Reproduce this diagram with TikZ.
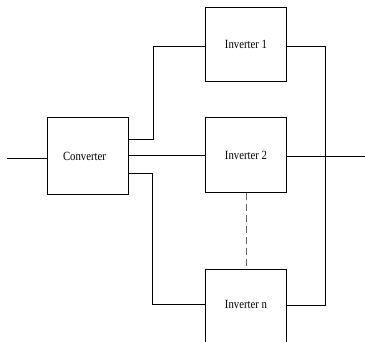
\documentclass[tikz,border=0pt]{standalone}
\usepackage{fontspec}
\setmainfont{Liberation Serif}
\begin{document}
\begin{tikzpicture}[x=1pt,y=-1pt,
  blk/.style={draw,line width=0.9pt,minimum width=81pt,inner sep=0pt},
  wire/.style={line width=0.9pt},
  lbl/.style={font=\fontsize{12.5}{13}\selectfont,xscale=0.86}]
\useasboundingbox (0,0) rectangle (365,342);
\clip (0,0) rectangle (365,342);
\node[blk,minimum height=76.5pt] (conv) at (87.8,156) {};
\node[lbl] at (84.5,156) {Converter};
\node[blk,minimum height=74.4pt] (inv1) at (246,44.5) {};
\node[lbl] at (inv1.center) {Inverter 1};
\node[blk,minimum height=75pt] (inv2) at (246,155.2) {};
\node[lbl] at (inv2.center) {Inverter 2};
\node[blk,minimum height=90pt] (invn) at (246,314.3) {};
\node[lbl] at (246,304.5) {Inverter n};
\coordinate (in) at (7.3,158.3);
\coordinate (out) at (366,156.3);
\draw[wire] (in) -- (in -| conv.west);
\draw[wire] (conv.east |- 0,139) -| (153.3,46.3) -- (0,46.3 -| inv1.west);
\draw[wire] (conv.east |- 0,155.7) -- (0,155.7 -| inv2.west);
\draw[wire] (conv.east |- 0,173.7) -| (152.7,304.3) -- (0,304.3 -| invn.west);
\draw[wire] (inv1.east |- 0,46.3) -| (325,305) -- (0,305 -| invn.east);
\draw[wire] (inv2.east |- 0,156.3) -- (out);
\draw[wire,gray!80!black,dash pattern=on 6.5pt off 4.5pt] (inv2.south) -- (invn.north);
\end{tikzpicture}
\end{document}
